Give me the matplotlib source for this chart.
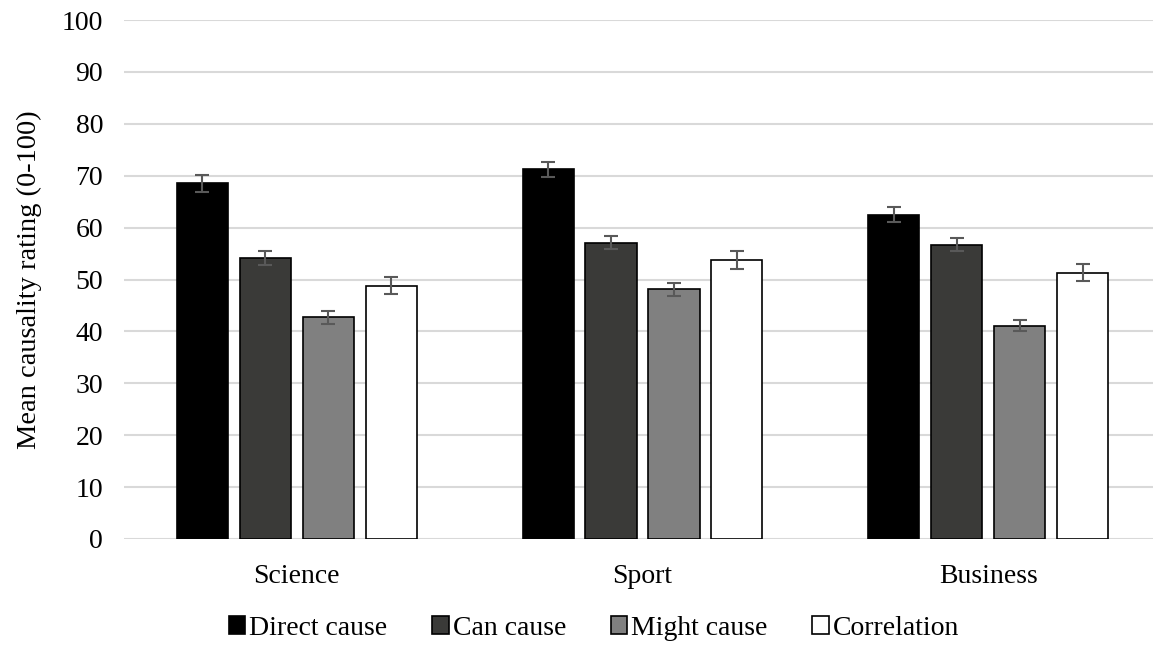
import matplotlib.pyplot as plt
import numpy as np

plt.rcParams['font.family'] = ['Liberation Serif', 'DejaVu Serif']

categories = ['Science', 'Sport', 'Business']
series = ['Direct cause', 'Can cause', 'Might cause', 'Correlation']
means = {
    'Direct cause': [68.5, 71.2, 62.5],
    'Can cause': [54.1, 57.1, 56.7],
    'Might cause': [42.7, 48.1, 41.1],
    'Correlation': [48.8, 53.7, 51.3],
}
errors = {
    'Direct cause': [1.6, 1.5, 1.4],
    'Can cause': [1.3, 1.2, 1.3],
    'Might cause': [1.2, 1.2, 1.1],
    'Correlation': [1.6, 1.7, 1.6],
}
colors = ['#000000', '#3a3a38', '#808080', '#ffffff']

fig = plt.figure(figsize=(11.53, 6.46), dpi=100)
ax = fig.add_axes([124 / 1153, 107 / 646, 1037 / 1153, 519 / 646])

x = np.arange(len(categories))
step = 0.182
width = 0.148
for j, name in enumerate(series):
    ax.bar(x + (j - 1.5) * step, means[name], width, color=colors[j],
           edgecolor='#000000', linewidth=1.2, label=name, zorder=3)
    ax.errorbar(x + (j - 1.5) * step, means[name], yerr=errors[name],
                fmt='none', ecolor='#595959', elinewidth=1.5, capsize=5,
                capthick=1.5, zorder=4)

ax.set_xlim(-0.5, 2.5)
ax.set_ylim(0, 100)
ax.set_yticks(range(0, 101, 10))
ax.set_xticks(x)
ax.set_xticklabels(categories)
ax.tick_params(axis='both', length=0, labelsize=20)
ax.tick_params(axis='x', pad=18)
ax.tick_params(axis='y', pad=15)
ax.grid(axis='y', color='#d9d9d9', linewidth=1.5, zorder=0)
for s in ax.spines.values():
    s.set_visible(False)
ax.set_ylabel('Mean causality rating (0-100)', fontsize=20.5, labelpad=14)

ax.legend(loc='center', bbox_to_anchor=(470 / 1037, -0.172), ncol=4,
          frameon=False, fontsize=20, handlelength=0.6, handleheight=0.6,
          handletextpad=0.15, columnspacing=1.6, borderaxespad=0)

fig.savefig('out.png', dpi=100)
